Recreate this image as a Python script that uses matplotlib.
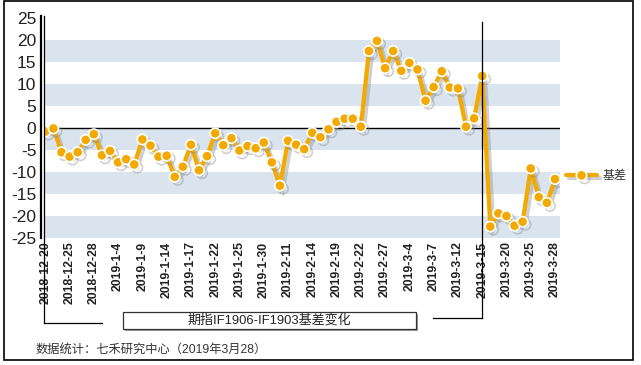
import matplotlib
matplotlib.use("Agg")
import matplotlib.pyplot as plt
import matplotlib.patheffects as pe
from matplotlib.lines import Line2D
from matplotlib.patches import Rectangle

tick_dates = ["2018-12-20", "2018-12-25", "2018-12-28", "2019-1-4", "2019-1-9",
              "2019-1-14", "2019-1-17", "2019-1-22", "2019-1-25", "2019-1-30",
              "2019-2-11", "2019-2-14", "2019-2-19", "2019-2-22", "2019-2-27",
              "2019-3-4", "2019-3-7", "2019-3-12", "2019-3-15", "2019-3-20",
              "2019-3-25", "2019-3-28"]

basis = [-0.8, -0.1, -5.5, -6.5, -5.5, -2.7, -1.4, -6.2, -5.2, -7.8,
         -7.1, -8.3, -2.6, -4.0, -6.5, -6.3, -11.1, -8.8, -3.8, -9.6,
         -6.4, -1.2, -3.9, -2.3, -5.1, -4.1, -4.6, -3.3, -7.8, -13.1,
         -2.9, -3.8, -4.8, -1.1, -2.1, -0.3, 1.4, 2.1, 2.1, 0.3,
         17.5, 19.8, 13.6, 17.5, 13.0, 14.8, 13.3, 6.2, 9.3, 12.9,
         9.2, 9.0, 0.3, 2.2, 11.8, -22.4, -19.4, -20.0, -22.2, -21.3,
         -9.2, -15.7, -17.0, -11.6]

series_name = "基差"
caption = "期指IF1906-IF1903基差变化"
source_note = "数据统计：七禾研究中心（2019年3月28）"

W, H = 641, 365
fig = plt.figure(figsize=(W / 100, H / 100), dpi=100)

def fx(px):
    return px / W

def fy(py):
    return 1 - py / H

ax_l, ax_r, ax_t, ax_b = 44, 560, 18, 238
ax = fig.add_axes([fx(ax_l), fy(ax_b), fx(ax_r - ax_l), (ax_b - ax_t) / H])

orange = "#F3A900"
band = "#D9E4EF"

xs = list(range(len(basis)))
ax.set_xlim(-0.16, 63.62)
ax.set_ylim(-25, 25)

for lo in [15, 5, -5, -15, -25]:
    ax.axhspan(lo, lo + 5, color=band, lw=0, zorder=0)
ax.axhline(0, color="black", lw=1.0, zorder=1)

ax.plot(xs, basis, color=orange, lw=3.0, marker="o", ms=7.4, mfc=orange,
        mec="white", mew=1.2, solid_joinstyle="miter", solid_capstyle="round",
        zorder=3, label=series_name,
        path_effects=[pe.SimpleLineShadow(offset=(2.2, -2.2), shadow_color="#8a8a8a", alpha=0.4),
                      pe.Normal()])

for s in ["top", "right", "bottom", "left"]:
    ax.spines[s].set_visible(False)

ax.set_yticks(range(-25, 26, 5))
ax.set_yticklabels([str(v) for v in range(-25, 26, 5)], fontsize=12.5,
                   family="Liberation Sans", color="#222222")
ax.tick_params(axis="y", length=0, pad=5.5)
ax.set_xticks(range(0, 64, 3))
ax.set_xticklabels(tick_dates, rotation=90, fontsize=8.8, fontweight="bold",
                   family="Liberation Sans", color="#222222")
ax.tick_params(axis="x", length=0, pad=2.5)

# axis lines / brackets
fig.add_artist(Line2D([fx(40.5), fx(40.5)], [fy(16), fy(238)], color="black", lw=1.6))
fig.add_artist(Line2D([fx(44.3), fx(44.3)], [fy(16), fy(323)], color="black", lw=0.9))
fig.add_artist(Line2D([fx(44.3), fx(101.5)], [fy(323), fy(323)], color="black", lw=0.9))

fig.canvas.draw()
xv = ax.transData.transform((54, 0))[0]
fig.add_artist(Line2D([xv / W, xv / W], [fy(22), fy(318)], color="black", lw=0.9, zorder=5))
fig.add_artist(Line2D([fx(433), xv / W], [fy(318), fy(318)], color="black", lw=0.9))

# caption box
fig.add_artist(Rectangle((fx(125), fy(330.5)), fx(293), (17) / H, transform=fig.transFigure,
                         facecolor="#9a9a9a", edgecolor="none", zorder=1))
fig.add_artist(Rectangle((fx(123), fy(328.5)), fx(293), (17) / H, transform=fig.transFigure,
                         facecolor="white", edgecolor="#333333", lw=0.9, zorder=2))
fig.text(fx(269.5), fy(320), caption, ha="center", va="center", fontsize=9.4,
         family=["Liberation Sans", "Noto Sans CJK SC"], color="#222222", zorder=3)

fig.text(fx(36), fy(350), source_note, ha="left", va="center", fontsize=8.8,
         family=["Liberation Sans", "Noto Sans CJK SC"], color="#333333")

# legend
leg = ax.legend(loc="center left", bbox_to_anchor=(fx(566), fy(176)),
                bbox_transform=fig.transFigure, frameon=False, handlelength=2.6,
                handletextpad=0.5, borderpad=0, borderaxespad=0,
                prop={"family": ["Noto Sans CJK SC"], "size": 8.6})
for t in leg.get_texts():
    t.set_color("#333333")

# outer border
fig.add_artist(Rectangle((fx(4), fy(360)), fx(629), 359 / H, transform=fig.transFigure,
                         facecolor="none", edgecolor="black", lw=1.2))

fig.savefig("out.png", dpi=100)
